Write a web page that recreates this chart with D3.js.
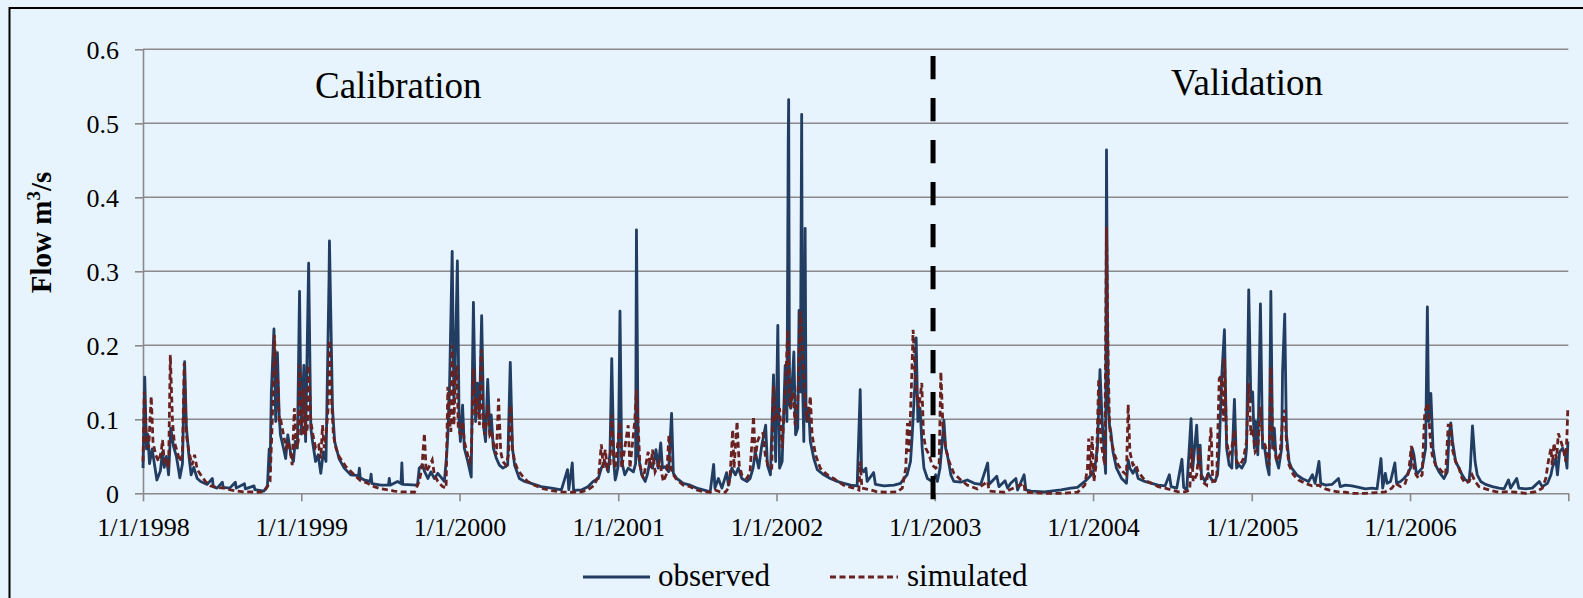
<!DOCTYPE html>
<html>
<head>
<meta charset="utf-8">
<script src="https://cdn.jsdelivr.net/npm/d3@7"></script>
<style>
  html, body { margin: 0; padding: 0; background: #E7F3FD; overflow: hidden; }
  svg { display: block; font-family: "Liberation Serif", "Times New Roman", serif; }
</style>
</head>
<body>
<svg id="chart" width="1583" height="598"></svg>
<script>
// flow in m3/s, keyed by day number counted from 1/1/1998
var observed = [
  // 1998
  [0,.034],[4,.157],[8,.06],[11,.08],[15,.04],[21,.06],[32,.018],[40,.03],[45,.056],[49,.035],[54,.05],[59,.025],
  [64,.088],[71,.062],[77,.05],[85,.021],[91,.04],[96,.178],[100,.09],[106,.05],[111,.025],[117,.035],[125,.02],
  [133,.016],[148,.012],[160,.02],[162,.009],[171,.007],[183,.015],[185,.008],[200,.007],[213,.015],[215,.007],
  [234,.013],[236,.006],[256,.01],[258,.005],[279,.003],[287,.01],[291,.06],[293,.03],[296,.137],[302,.222],
  [306,.097],[310,.19],[314,.106],[317,.079],[324,.061],[329,.047],[334,.079],[341,.052],[347,.043],[351,.07],
  [356,.061],[361,.273],[365,.08],
  // 1999
  [371,.173],[375,.07],[382,.311],[387,.088],[391,.07],[398,.043],[404,.052],[410,.027],[416,.056],[422,.043],
  [429,.29],[430,.341],[437,.115],[442,.07],[452,.047],[464,.034],[479,.025],[497,.024],[499,.034],[501,.021],
  [510,.018],[524,.016],[526,.026],[528,.013],[549,.011],[566,.011],[568,.02],[570,.011],[587,.016],[595,.013],
  [597,.041],[599,.012],[633,.011],[637,.034],[645,.038],[649,.03],[657,.02],[664,.029],[672,.02],[680,.027],
  [687,.022],[695,.016],[700,.05],[703,.079],[707,.146],[713,.327],[717,.124],[720,.171],[725,.314],[729,.097],
  // 2000
  [732,.07],[737,.119],[741,.061],[749,.043],[757,.022],[760,.176],[762,.258],[767,.097],[771,.149],[776,.11],
  [781,.24],[786,.088],[790,.07],[795,.154],[800,.079],[803,.106],[808,.061],[815,.047],[822,.038],[830,.034],
  [841,.038],[847,.177],[852,.061],[857,.038],[868,.02],[880,.016],[895,.0135],[918,.009],[942,.007],[965,.0045],
  [979,.032],[982,.005],[990,.041],[993,.004],[1011,.0045],[1026,.009],[1038,.016],[1050,.02],[1057,.034],
  [1065,.043],[1073,.029],[1077,.056],[1081,.182],[1086,.04],[1089,.018],[1092,.025],
  // 2001
  [1096,.038],[1100,.246],[1104,.043],[1111,.025],[1119,.034],[1131,.029],[1136,.04],[1138,.356],[1142,.052],
  [1150,.025],[1158,.016],[1163,.025],[1169,.043],[1175,.034],[1183,.059],[1188,.034],[1194,.068],[1198,.034],
  [1204,.036],[1212,.029],[1219,.108],[1223,.027],[1231,.02],[1246,.0135],[1262,.011],[1277,.007],[1292,.0045],
  [1308,.002],[1316,.039],[1319,.007],[1327,.02],[1335,.007],[1346,.028],[1350,.011],[1358,.034],[1366,.025],
  [1373,.034],[1381,.02],[1393,.016],[1400,.02],[1407,.034],[1412,.056],[1420,.034],[1427,.065],[1436,.092],
  [1440,.038],[1447,.025],[1454,.16],[1459,.043],
  // 2002
  [1464,.227],[1468,.034],[1474,.043],[1481,.173],[1485,.097],[1488,.475],[1489,.532],[1491,.12],[1494,.115],
  [1501,.191],[1505,.079],[1510,.088],[1513,.247],[1516,.137],[1519,.512],[1521,.15],[1524,.07],[1527,.358],
  [1529,.12],[1531,.097],[1535,.115],[1539,.07],[1547,.047],[1555,.032],[1570,.025],[1585,.02],[1601,.016],
  [1616,.0135],[1632,.011],[1647,.01],[1654,.14],[1657,.034],[1662,.029],[1667,.034],[1670,.016],[1685,.028],
  [1689,.012],[1709,.01],[1732,.011],[1747,.0135],[1755,.02],[1762,.025],[1770,.043],[1774,.079],[1780,.146],
  [1783,.21],[1787,.097],[1792,.115],[1797,.061],[1801,.034],[1809,.02],[1820,.016],
  // 2003
  [1828,.025],[1832,.016],[1838,.034],[1842,.061],[1847,.099],[1851,.061],[1855,.052],[1863,.025],[1870,.016],
  [1886,.015],[1901,.018],[1917,.0135],[1932,.012],[1948,.041],[1951,.012],[1969,.023],[1974,.009],[1988,.017],
  [1994,.007],[2001,.0135],[2013,.02],[2017,.0045],[2032,.025],[2036,.0045],[2048,.003],[2079,.002],[2117,.0045],
  [2140,.007],[2155,.008],[2172,.016],[2179,.02],[2187,.025],
  // 2004
  [2195,.034],[2201,.061],[2207,.167],[2212,.097],[2216,.061],[2220,.027],[2222,.464],[2224,.26],[2226,.12],
  [2229,.092],[2232,.083],[2237,.056],[2245,.034],[2257,.02],[2268,.0135],[2272,.045],[2276,.034],[2283,.027],
  [2289,.034],[2295,.02],[2310,.016],[2326,.0135],[2341,.011],[2357,.01],[2367,.025],[2371,.009],[2384,.007],
  [2396,.046],[2400,.008],[2407,.0045],[2417,.101],[2421,.034],[2430,.092],[2434,.038],[2438,.065],[2441,.025],
  [2449,.016],[2457,.027],[2465,.018],[2472,.016],[2478,.025],[2482,.061],[2488,.16],[2494,.221],[2499,.061],
  [2505,.038],[2511,.034],[2517,.127],[2522,.034],[2528,.038],[2534,.034],[2542,.043],[2545,.061],[2550,.275],
  [2555,.124],
  // 2005
  [2559,.137],[2563,.061],[2566,.097],[2571,.052],[2577,.256],[2582,.061],[2586,.065],[2592,.038],[2597,.025],
  [2601,.273],[2605,.061],[2609,.088],[2613,.047],[2619,.034],[2626,.061],[2628,.164],[2633,.242],[2637,.079],
  [2643,.043],[2649,.034],[2661,.025],[2673,.02],[2688,.016],[2697,.025],[2703,.0135],[2712,.043],[2716,.0135],
  [2727,.011],[2742,.012],[2757,.02],[2761,.009],[2773,.011],[2788,.01],[2804,.008],[2819,.006],[2834,.007],
  [2846,.006],[2855,.047],[2859,.007],[2865,.027],[2869,.0135],[2877,.016],[2887,.041],[2891,.0135],[2900,.016],
  [2908,.02],[2915,.025],
  // 2006
  [2923,.034],[2927,.061],[2931,.052],[2937,.025],[2942,.029],[2950,.034],[2958,.061],[2962,.252],[2965,.097],
  [2970,.135],[2975,.061],[2981,.038],[2989,.029],[3000,.02],[3008,.029],[3012,.079],[3016,.095],[3020,.07],
  [3027,.043],[3035,.034],[3042,.025],[3050,.018],[3058,.016],[3061,.034],[3066,.091],[3072,.043],[3077,.025],
  [3085,.016],[3096,.012],[3112,.009],[3127,.007],[3139,.006],[3149,.018],[3154,.007],[3168,.02],[3173,.007],
  [3189,.006],[3204,.007],[3220,.016],[3227,.009],[3239,.0135],[3247,.025],[3250,.034],[3258,.047],[3262,.025],
  [3267,.056],[3274,.061],[3280,.052],[3284,.034],[3286,.07]
];

var simulated = [
  // 1998
  [0,.043],[3,.137],[8,.07],[13,.061],[19,.131],[23,.07],[29,.052],[36,.043],[42,.056],[45,.072],[49,.043],
  [54,.047],[59,.034],[63,.187],[68,.097],[72,.07],[79,.056],[85,.043],[91,.052],[95,.176],[100,.079],[106,.056],
  [113,.038],[119,.052],[125,.032],[133,.025],[144,.016],[156,.01],[171,.008],[186,.007],[202,.0045],[217,.003],
  [233,.002],[248,.002],[264,.0014],[279,.002],[287,.009],[293,.016],[297,.079],[301,.151],[303,.214],[307,.16],
  [311,.151],[314,.097],[317,.101],[324,.079],[330,.061],[335,.07],[341,.052],[344,.038],[349,.115],[354,.061],
  [358,.07],[361,.173],[365,.097],
  // 1999
  [369,.079],[371,.142],[375,.079],[379,.088],[382,.173],[387,.097],[392,.079],[398,.061],[405,.065],[410,.047],
  [414,.092],[418,.061],[422,.079],[427,.115],[430,.207],[435,.124],[439,.079],[445,.061],[452,.05],[460,.043],
  [468,.036],[475,.032],[487,.025],[502,.017],[518,.0135],[533,.009],[549,.006],[568,.0045],[579,.003],[595,.002],
  [610,.002],[626,.0014],[637,.016],[643,.034],[649,.081],[653,.029],[658,.034],[667,.045],[672,.025],[680,.016],
  [691,.009],[699,.007],[703,.144],[707,.097],[710,.083],[713,.2],[717,.092],[720,.151],[724,.173],[727,.088],
  // 2000
  [732,.079],[737,.097],[741,.07],[747,.056],[753,.043],[757,.052],[760,.115],[762,.169],[767,.106],[771,.128],
  [776,.092],[780,.194],[784,.097],[788,.079],[792,.097],[795,.119],[800,.079],[804,.083],[809,.065],[815,.052],
  [820,.128],[825,.056],[830,.043],[837,.038],[843,.052],[848,.119],[852,.061],[857,.043],[864,.032],[876,.0225],
  [887,.016],[903,.011],[918,.007],[942,.0036],[965,.002],[988,.0014],[1011,.002],[1026,.0045],[1041,.011],
  [1051,.025],[1057,.066],[1062,.034],[1066,.059],[1071,.034],[1077,.038],[1081,.106],[1086,.043],
  // 2001
  [1089,.034],[1100,.097],[1104,.034],[1119,.092],[1123,.034],[1134,.097],[1138,.14],[1146,.038],[1154,.02],
  [1165,.056],[1171,.034],[1175,.059],[1181,.029],[1185,.034],[1191,.043],[1200,.016],[1208,.027],[1213,.079],
  [1217,.034],[1223,.025],[1231,.018],[1246,.011],[1262,.009],[1277,.0045],[1292,.002],[1308,.0014],[1319,.0045],
  [1331,.002],[1343,.0014],[1350,.007],[1354,.025],[1360,.086],[1363,.034],[1370,.097],[1375,.038],[1381,.025],
  [1393,.02],[1400,.029],[1408,.104],[1412,.047],[1417,.07],[1423,.079],[1430,.081],[1435,.052],[1443,.034],
  [1450,.034],[1454,.146],[1458,.097],
  // 2002
  [1462,.106],[1468,.115],[1474,.061],[1481,.137],[1487,.221],[1493,.115],[1499,.137],[1504,.092],[1510,.124],
  [1516,.246],[1522,.178],[1528,.115],[1533,.097],[1539,.131],[1543,.079],[1551,.052],[1562,.034],[1578,.025],
  [1593,.02],[1616,.011],[1639,.007],[1651,.0045],[1654,.043],[1658,.007],[1678,.0045],[1693,.002],[1716,.0014],
  [1739,.002],[1751,.007],[1759,.034],[1763,.095],[1767,.056],[1773,.16],[1776,.221],[1780,.169],[1784,.137],
  [1789,.115],[1796,.149],[1800,.079],[1805,.061],[1813,.052],[1820,.038],
  // 2003
  [1828,.034],[1836,.038],[1840,.164],[1845,.088],[1851,.061],[1859,.043],[1870,.027],[1886,.018],[1901,.011],
  [1924,.006],[1948,.016],[1951,.003],[1986,.0014],[2032,.0135],[2034,.0014],[2079,0],[2117,0],[2155,.0014],
  [2172,.011],[2178,.034],[2181,.074],[2185,.025],[2189,.077],
  // 2004
  [2193,.016],[2199,.043],[2204,.155],[2209,.07],[2214,.052],[2218,.038],[2222,.36],[2226,.169],[2229,.092],
  [2233,.07],[2241,.052],[2249,.038],[2260,.029],[2268,.025],[2272,.12],[2276,.056],[2283,.038],[2289,.04],
  [2295,.029],[2310,.018],[2326,.0135],[2341,.009],[2357,.007],[2372,.0045],[2388,.002],[2403,.002],[2414,.0045],
  [2418,.061],[2422,.016],[2430,.025],[2436,.061],[2441,.016],[2453,.011],[2463,.089],[2467,.016],[2476,.018],
  [2482,.155],[2486,.158],[2492,.097],[2494,.182],[2499,.07],[2505,.052],[2511,.061],[2517,.086],[2522,.043],
  [2530,.038],[2538,.047],[2545,.07],[2550,.149],[2555,.079],
  // 2005
  [2559,.088],[2565,.056],[2571,.061],[2577,.117],[2582,.07],[2588,.065],[2594,.047],[2597,.038],[2601,.171],
  [2605,.079],[2609,.061],[2615,.043],[2622,.052],[2628,.097],[2633,.113],[2637,.07],[2643,.038],[2653,.025],
  [2665,.018],[2680,.0135],[2696,.01],[2711,.011],[2727,.006],[2742,.0032],[2757,.002],[2773,.0014],[2788,0],
  [2819,0],[2850,.001],[2865,.002],[2880,.0068],[2888,.0135],[2900,.009],[2911,.0135],[2919,.029],
  // 2006
  [2925,.064],[2931,.034],[2936,.025],[2942,.02],[2950,.025],[2956,.11],[2959,.115],[2964,.122],[2968,.079],
  [2973,.052],[2981,.038],[2989,.034],[2996,.029],[3004,.025],[3010,.092],[3016,.092],[3019,.061],[3027,.043],
  [3035,.034],[3042,.02],[3050,.0135],[3058,.016],[3065,.025],[3072,.016],[3081,.009],[3096,.006],[3112,.0032],
  [3127,.0014],[3150,.0023],[3166,.0014],[3189,0],[3212,.0023],[3227,.0068],[3235,.02],[3241,.043],[3247,.061],
  [3250,.038],[3254,.068],[3260,.047],[3264,.081],[3270,.07],[3275,.061],[3281,.043],[3284,.079],[3286,.117]
];

var yTicks = [0, 0.1, 0.2, 0.3, 0.4, 0.5, 0.6];
var seriesNames = ["observed", "simulated"];
var periodNames = ["Calibration", "Validation"];
var splitDay = 1822;   // end of calibration period

(function() {
  var startDate = new Date(1998, 0, 1);
  var endDate = new Date(2007, 0, 1);
  function dayToDate(d) { return d3.timeDay.offset(startDate, d); }

  var svg = d3.select("#chart");
  var plotLeft = 143, plotRight = 1568.3, plotTop = 49.3, plotBottom = 493.3;
  var blue = "#223D62", red = "#6A2220", gray = "#8A8A8A";

  // frame round the chart
  svg.append("rect")
    .attr("x", 9.5).attr("y", 8)
    .attr("width", 1620).attr("height", 640)
    .attr("fill", "#E7F3FD")
    .attr("stroke", "#000").attr("stroke-width", 2);

  var x = d3.scaleTime().domain([startDate, endDate]).range([plotLeft, plotRight]);
  var y = d3.scaleLinear().domain([0, 0.6]).range([plotBottom, plotTop]);

  // horizontal gridlines
  svg.append("g").selectAll("line")
    .data(yTicks.filter(function(d) { return d > 0; }))
    .enter().append("line")
    .attr("x1", plotLeft).attr("x2", plotRight)
    .attr("y1", function(d) { return y(d); })
    .attr("y2", function(d) { return y(d); })
    .attr("stroke", gray).attr("stroke-width", 1.6);

  // y axis
  var yAxis = svg.append("g")
    .attr("transform", "translate(" + plotLeft + ",0)")
    .call(d3.axisLeft(y).tickValues(yTicks).tickSize(8).tickSizeOuter(0).tickPadding(16)
      .tickFormat(function(d) { return d === 0 ? "0" : d.toFixed(1); }));

  // x axis
  var fmt = d3.timeFormat("%-m/%-d/%Y");
  var xAxis = svg.append("g")
    .attr("transform", "translate(0," + plotBottom + ")")
    .call(d3.axisBottom(x).ticks(d3.timeYear.every(1)).tickSize(8).tickSizeOuter(0).tickPadding(16)
      .tickFormat(function(d) { return d.getFullYear() < 2007 ? fmt(d) : ""; }));

  [yAxis, xAxis].forEach(function(g) {
    g.attr("font-family", null).attr("font-size", null);
    g.selectAll("path, line").attr("stroke", gray).attr("stroke-width", 1.6);
    g.selectAll("text").attr("fill", "#000").style("font-size", "26px");
  });
  yAxis.selectAll("text").attr("dy", "0.37em");
  xAxis.selectAll("text").attr("dy", "0.71em");

  // flow lines
  var line = d3.line()
    .x(function(d) { return x(dayToDate(d[0])); })
    .y(function(d) { return y(d[1]); });

  svg.append("path").datum(observed)
    .attr("d", line)
    .attr("fill", "none").attr("stroke", blue)
    .attr("stroke-width", 2.8).attr("stroke-linejoin", "round");

  svg.append("path").datum(simulated)
    .attr("d", line)
    .attr("fill", "none").attr("stroke", red)
    .attr("stroke-width", 2.8).attr("stroke-dasharray", "6,3.5");

  // split between calibration and validation
  var sx = x(dayToDate(splitDay));
  svg.append("line")
    .attr("x1", sx).attr("x2", sx)
    .attr("y1", 56).attr("y2", 501)
    .attr("stroke", "#000").attr("stroke-width", 5)
    .attr("stroke-dasharray", "23.3,18.7");

  // period titles
  svg.append("text").attr("x", 315).attr("y", 98)
    .style("font-size", "37px").text(periodNames[0]);
  svg.append("text").attr("x", 1171).attr("y", 95)
    .style("font-size", "37px").text(periodNames[1]);

  // y axis title
  var yt = svg.append("text")
    .attr("transform", "translate(51,232.5) rotate(-90)")
    .attr("text-anchor", "middle")
    .style("font-size", "29px").style("font-weight", "bold");
  yt.append("tspan").text("Flow m");
  yt.append("tspan").attr("dy", -11).style("font-size", "19px").text("3");
  yt.append("tspan").attr("dy", 11).text("/s");

  // legend
  var legend = svg.append("g");
  legend.append("line").attr("x1", 583).attr("x2", 650).attr("y1", 577).attr("y2", 577)
    .attr("stroke", blue).attr("stroke-width", 2.8);
  legend.append("text").attr("x", 658).attr("y", 585.5)
    .style("font-size", "31px").text(seriesNames[0]);
  legend.append("line").attr("x1", 830).attr("x2", 898).attr("y1", 577).attr("y2", 577)
    .attr("stroke", red).attr("stroke-width", 2.8).attr("stroke-dasharray", "6,3.5");
  legend.append("text").attr("x", 907).attr("y", 585.5)
    .style("font-size", "31px").text(seriesNames[1]);
})();
</script>
</body>
</html>
